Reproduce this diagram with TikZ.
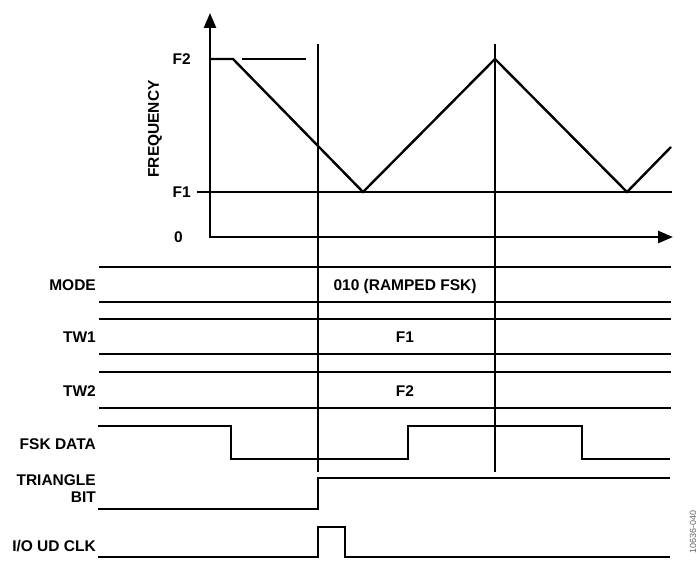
\documentclass[tikz,border=0pt]{standalone}
\usepackage{fontspec}
\setmainfont{Liberation Sans}
\usetikzlibrary{arrows.meta}

\begin{document}
\begin{tikzpicture}[x=1pt,y=-1pt,
	every node/.style={font=\fontsize{15.5}{17}\selectfont\bfseries, inner sep=0pt},
	sig/.style={line width=2.8pt},
	guide/.style={line width=1.1pt},
	axis/.style={line width=2.5pt, -{Triangle[length=15pt,width=12pt]}},
	lbl/.style={anchor=east}]
	\useasboundingbox (0,0) rectangle (699,561);
	% frequency plot
	\draw [axis] (210,237) -- (210,13);
	\draw [axis] (209,237) -- (673,237);
	\draw [guide] (197,192) -- (672,192);
	\draw [guide] (242,59) -- (306,59);
	\draw [line width=2.4pt] (210,59) -- (233,59) -- (363,192) -- (495,59) -- (627,192) -- (671,147);
	\node (fq) [rotate=90] at (155,129) {FREQUENCY};
	\node (lf2) [lbl] at (191,59) {F2};
	\node (lf1) [lbl] at (191,192) {F1};
	\node (lzero) [lbl] at (183,237) {0};
	% markers
	\draw [guide] (318,44) -- (318,472);
	\draw [guide] (495,44) -- (495,472);
	% buses
	\foreach \y in {267,302,319,354,372,408}
		\draw [sig] (99,\y) -- (671,\y);
	\node (mode) [lbl] at (96,285) {MODE};
	\node (tw1) [lbl] at (96,337) {TW1};
	\node (tw2) [lbl] at (96,391) {TW2};
	\node (modev) at (405,286) {010 (RAMPED FSK)};
	\node (tw1v) at (405,337) {F1};
	\node (tw2v) at (405,391) {F2};
	% signals
	\draw [sig] (98,426) -- (231,426) -- (231,459) -- (408,459) -- (408,426) -- (582,426) -- (582,459) -- (670,459);
	\draw [sig] (98,509) -- (318,509) -- (318,478) -- (670,478);
	\draw [sig] (98,557) -- (318,557) -- (318,527) -- (345,527) -- (345,557) -- (670,557);
	\node (fsk) [lbl] at (96,444) {FSK DATA};
	\node (tri) [lbl, align=right] at (96,489) {TRIANGLE\\BIT};
	\node (clk) [lbl] at (96,546) {I/O UD CLK};
	\node (fig) [rotate=90, text=gray!80!black, font=\fontsize{9}{10}\selectfont] at (693,532) {10636-040};
\end{tikzpicture}
\end{document}
